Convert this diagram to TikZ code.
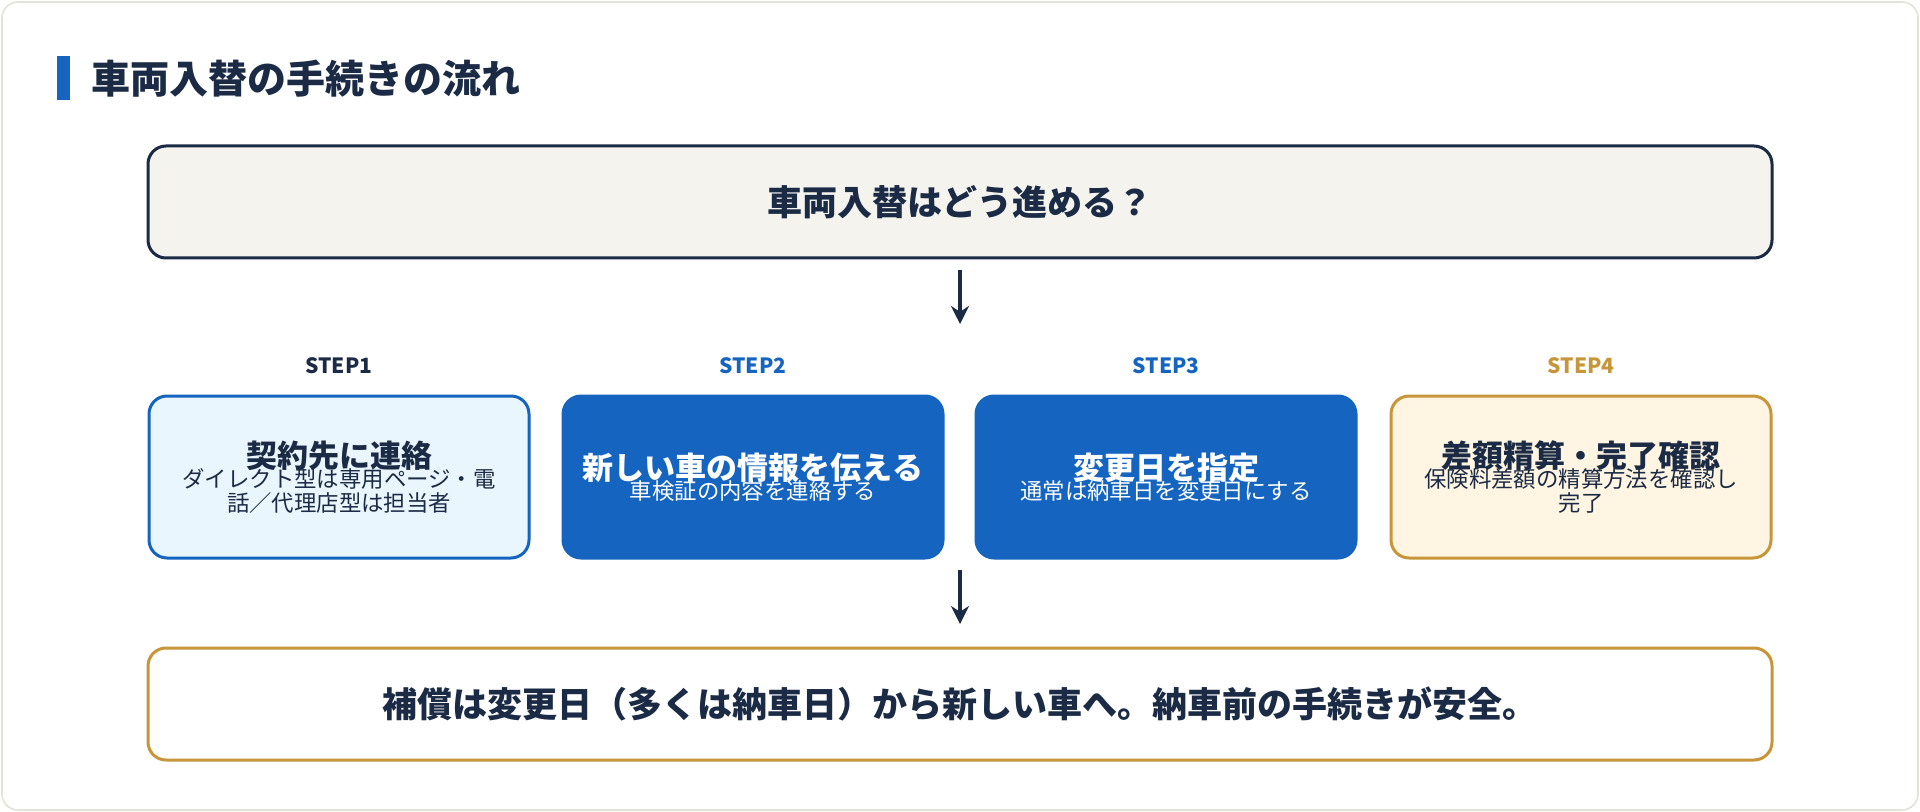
\documentclass[tikz,border=0pt]{standalone}
\usepackage{fontspec}
\setmainfont{Noto Sans CJK JP}
\usetikzlibrary{arrows.meta,positioning}
\definecolor{navy}{HTML}{1B2B45}
\definecolor{stepblue}{HTML}{1565C0}
\definecolor{lightblue}{HTML}{EAF6FD}
\definecolor{gold}{HTML}{C8963A}
\definecolor{cream}{HTML}{FFF5E2}
\definecolor{paper}{HTML}{F4F3EE}
\definecolor{frame}{HTML}{E4E2D6}
\newcommand{\stephead}{\bfseries\fontsize{15.5}{19}\selectfont}
\newcommand{\stepbig}{\bfseries\fontsize{15.5}{19}\selectfont}
\newcommand{\stepsub}{\mdseries\fontsize{11.2}{17}\selectfont}

\begin{document}
\begin{tikzpicture}[x=0.5pt,y=-0.5pt,>=Stealth,
  wide box/.style={draw,line width=1.5pt,rounded corners=9pt,minimum width=812pt,minimum height=56pt,font=\bfseries\fontsize{17.5}{20}\selectfont,text=navy},
  step box/.style={draw,line width=1.5pt,rounded corners=9pt,minimum width=190pt,minimum height=81pt,align=center},
  step label/.style={font=\bfseries\fontsize{10.5}{12}\selectfont},
  flow/.style={->,line width=1.6pt,navy,>={Stealth[length=9pt,width=9pt]}}]
  \useasboundingbox (0,0) rectangle (1920,812);
  \draw[frame,fill=white,rounded corners=8pt,line width=0.8pt] (2,2) rectangle (1918,810);
  \fill[stepblue] (57,56) rectangle (70,100);
  \node[anchor=west,text=navy,font=\bfseries\fontsize{19.5}{22}\selectfont] (title) at (84,79) {車両入替の手続きの流れ};

  \node[wide box,draw=navy,fill=paper] (top) at (960,202) {車両入替はどう進める？};
  \node[wide box,draw=gold,fill=white] (bottom) at (960,704) {補償は変更日（多くは納車日）から新しい車へ。納車前の手続きが安全。};

  \node[step box,draw=stepblue,fill=lightblue,text=navy] (s1) at (339,477)
    {\stephead 契約先に連絡\\[-2pt]\stepsub ダイレクト型は専用ページ・電\\\stepsub 話／代理店型は担当者};
  \node[step box,draw=stepblue,fill=stepblue,text=white] (s2) at (753,477)
    {\stepbig 新しい車の情報を伝える\\[-2pt]\stepsub 車検証の内容を連絡する};
  \node[step box,draw=stepblue,fill=stepblue,text=white] (s3) at (1166,477)
    {\stepbig 変更日を指定\\[-2pt]\stepsub 通常は納車日を変更日にする};
  \node[step box,draw=gold,fill=cream,text=navy] (s4) at (1581,477)
    {\stephead 差額精算・完了確認\\[-2pt]\stepsub 保険料差額の精算方法を確認し\\\stepsub 完了};

  \node[step label,text=navy,above=7pt of s1] (l1) {STEP1};
  \node[step label,text=stepblue,above=7pt of s2] (l2) {STEP2};
  \node[step label,text=stepblue,above=7pt of s3] (l3) {STEP3};
  \node[step label,text=gold,above=7pt of s4] (l4) {STEP4};

  \coordinate (a1) at (960,270);
  \coordinate (a2) at (960,324);
  \coordinate (b1) at (960,570);
  \coordinate (b2) at (960,624);
  \draw[flow] (a1) -- (a2);
  \draw[flow] (b1) -- (b2);
\end{tikzpicture}
\end{document}
